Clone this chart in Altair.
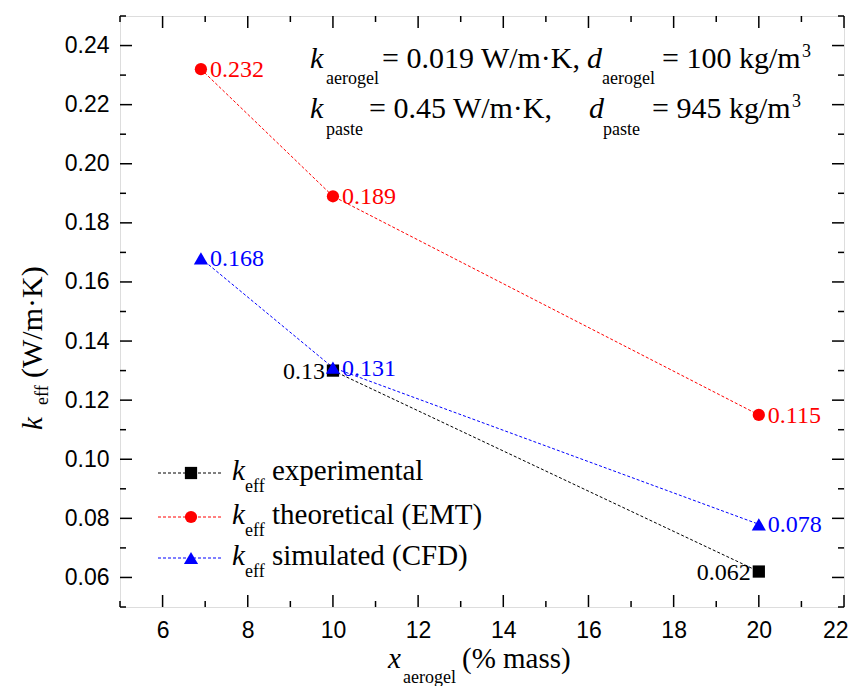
import altair as alt
import pandas as pd

# ---- data ----
x_exp = [10, 20]
y_exp = [0.13, 0.062]
lab_exp = ["0.13", "0.062"]

x_emt = [6.9, 10, 20]
y_emt = [0.232, 0.189, 0.115]
lab_emt = ["0.232", "0.189", "0.115"]

x_cfd = [6.9, 10, 20]
y_cfd = [0.168, 0.131, 0.078]
lab_cfd = ["0.168", "0.131", "0.078"]

x_major = [6, 8, 10, 12, 14, 16, 18, 20, 22]
x_minor = [5, 7, 9, 11, 13, 15, 17, 19, 21]
y_major = [0.06, 0.08, 0.10, 0.12, 0.14, 0.16, 0.18, 0.20, 0.22, 0.24]
y_minor = [0.05, 0.07, 0.09, 0.11, 0.13, 0.15, 0.17, 0.19, 0.21, 0.23, 0.25]

W, H = 724, 591
SERIF = "Liberation Serif"
SANS = "Liberation Sans"
RED, BLUE, BLACK = "#FF0000", "#0000FF", "#000000"

xs = alt.Scale(domain=[5, 22], nice=False, zero=False)
ys = alt.Scale(domain=[0.05, 0.25], nice=False, zero=False)
xaxis = alt.Axis(values=x_major, format="d", ticks=False, domain=False, grid=False,
                 labelFont=SANS, labelFontSize=23, labelColor="black", labelPadding=12,
                 title=None, labelFlush=True, labelFlushOffset=4)
yaxis = alt.Axis(values=y_major, format=".2f", ticks=False, domain=False, grid=False,
                 labelFont=SANS, labelFontSize=23, labelColor="black", labelPadding=11,
                 title=None)


def X(f):
    return alt.X(f, type="quantitative", scale=xs, axis=xaxis)


def Y(f):
    return alt.Y(f, type="quantitative", scale=ys, axis=yaxis)


def series_df(xv, yv, lab):
    return pd.DataFrame({"x": xv, "y": yv, "lab": lab})


df_exp = series_df(x_exp, y_exp, lab_exp)
df_emt = series_df(x_emt, y_emt, lab_emt)
df_cfd = series_df(x_cfd, y_cfd, lab_cfd)

layers = []

# lines
for df, col in [(df_exp, BLACK), (df_emt, RED), (df_cfd, BLUE)]:
    layers.append(alt.Chart(df).mark_line(color=col, strokeWidth=1, strokeDash=[3, 2])
                  .encode(x=X("x"), y=Y("y")))

# markers
layers.append(alt.Chart(df_exp).mark_point(shape="square", filled=True, opacity=1,
                                           color=BLACK, size=150).encode(x=X("x"), y=Y("y")))
layers.append(alt.Chart(df_emt).mark_point(shape="circle", filled=True, opacity=1,
                                           color=RED, size=150).encode(x=X("x"), y=Y("y")))
layers.append(alt.Chart(df_cfd).mark_point(shape="triangle-up", filled=True, opacity=1,
                                           color=BLUE, size=200).encode(x=X("x"), y=Y("y")))

# value labels
layers.append(alt.Chart(df_exp).mark_text(font=SERIF, fontSize=24, color=BLACK, align="right",
                                          baseline="middle", dx=-8, dy=1)
              .encode(x=X("x"), y=Y("y"), text="lab:N"))
layers.append(alt.Chart(df_emt).mark_text(font=SERIF, fontSize=24, color=RED, align="left",
                                          baseline="middle", dx=9, dy=1)
              .encode(x=X("x"), y=Y("y"), text="lab:N"))
layers.append(alt.Chart(df_cfd).mark_text(font=SERIF, fontSize=24, color=BLUE, align="left",
                                          baseline="middle", dx=9, dy=1)
              .encode(x=X("x"), y=Y("y"), text="lab:N"))

# inward ticks on all four sides
def xticks(vals, length):
    d = pd.DataFrame({"v": vals})
    bot = alt.Chart(d).mark_rule(color="black", strokeWidth=1.5).encode(
        x=X("v"), y=alt.value(H), y2=alt.value(H - length))
    top = alt.Chart(d).mark_rule(color="black", strokeWidth=1.5).encode(
        x=X("v"), y=alt.value(0), y2=alt.value(length))
    return [bot, top]


def yticks(vals, length):
    d = pd.DataFrame({"v": vals})
    left = alt.Chart(d).mark_rule(color="black", strokeWidth=1.5).encode(
        y=Y("v"), x=alt.value(0), x2=alt.value(length))
    right = alt.Chart(d).mark_rule(color="black", strokeWidth=1.5).encode(
        y=Y("v"), x=alt.value(W), x2=alt.value(W - length))
    return [left, right]


layers += xticks(x_major, 12) + xticks(x_minor, 6) + yticks(y_major, 12) + yticks(y_minor, 6)

one = pd.DataFrame({"a": [0]})


def txt(s, x, y, size=29, italic=False, color="black", align="left", angle=0, baseline="alphabetic"):
    kw = dict(text=s, font=SERIF, fontSize=size, color=color, align=align,
              baseline=baseline, clip=False)
    if italic:
        kw["fontStyle"] = "italic"
    if angle:
        kw["angle"] = angle
    return alt.Chart(one).mark_text(**kw).encode(x=alt.value(x), y=alt.value(y))


# annotation (top right)
layers += [
    txt("k", 190, 52, 30, True), txt("aerogel", 206, 68, 18),
    txt("= 0.019 W/m\u00b7K,", 262, 52, 30),
    txt("d", 467, 52, 30, True), txt("aerogel", 482, 68, 18),
    txt("= 100 kg/m", 542, 52, 30), txt("3", 682, 41, 18),
    txt("k", 190, 102, 30, True), txt("paste", 206, 119, 18),
    txt("= 0.45 W/m\u00b7K,", 249, 102, 30),
    txt("d", 469, 102, 30, True), txt("paste", 483, 119, 18),
    txt("= 945 kg/m", 532, 102, 30), txt("3", 672, 91, 18),
]

# legend
leg = [("experimental", BLACK, "square", 150), ("theoretical (EMT)", RED, "circle", 150),
       ("simulated (CFD)", BLUE, "triangle-up", 200)]
row_y = [457, 501, 542]
for (name, col, shp, sz), ry in zip(leg, row_y):
    layers.append(alt.Chart(one).mark_rule(color=col, strokeWidth=1, strokeDash=[3, 2]).encode(
        x=alt.value(38), x2=alt.value(103), y=alt.value(ry)))
    layers.append(alt.Chart(one).mark_point(shape=shp, filled=True, opacity=1, color=col, size=sz)
                  .encode(x=alt.value(71), y=alt.value(ry)))
    layers += [txt("k", 112, ry + 7, 29, True), txt("eff", 125, ry + 19, 18),
               txt(name, 152, ry + 7, 29)]

# axis titles
layers += [
    txt("x", 268, 652, 29, True), txt("aerogel", 283, 667, 18), txt("(% mass)", 342, 652, 29),
    txt("k", -78, 414, 29, True, angle=270), txt("eff", -72, 389, 18, angle=270),
    txt("(W/m\u00b7K)", -78, 362, 30, angle=270),
]

chart = alt.layer(*layers).properties(
    width=W, height=H,
    autosize=alt.AutoSizeParams(type="none"),
    padding={"left": 112, "top": 8, "right": 5, "bottom": 79},
).configure_view(stroke="black", strokeWidth=2).configure(background="white")

chart.save("out.html", embed_options={"renderer": "svg", "actions": False})
